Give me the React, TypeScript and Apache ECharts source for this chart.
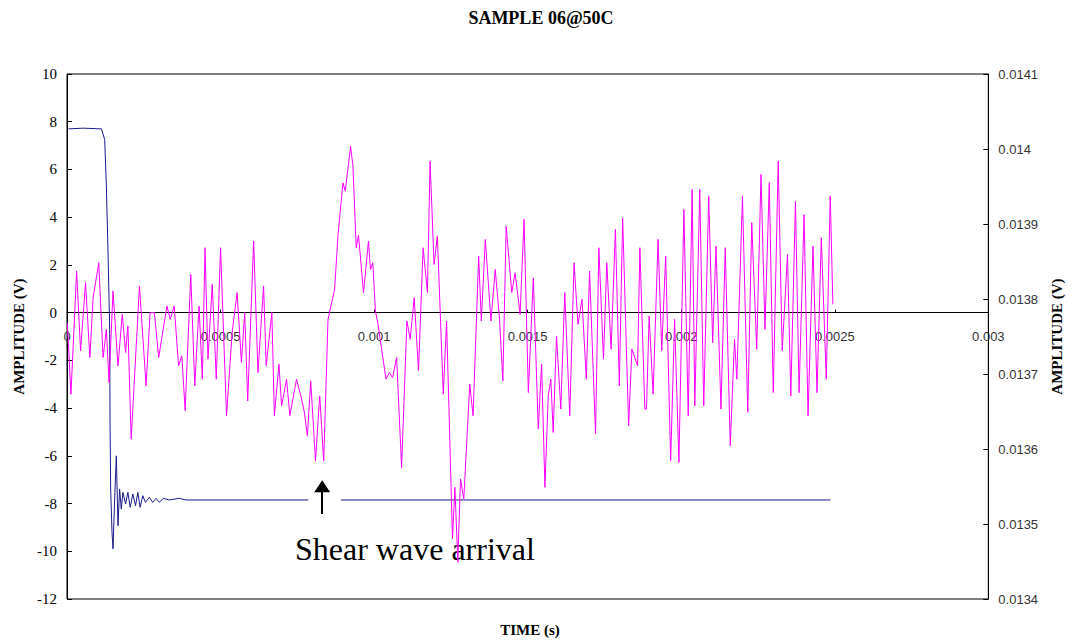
import React, { useEffect, useRef } from "react";
import * as echarts from "echarts";

// Received signal (magenta), time in microseconds and amplitude in volts
const magentaTimeUs = [
  1.1, 12.9, 31.3, 44.2, 60.3, 74.4, 85.1, 103.4, 117.5, 128.2, 136.9, 149.8, 166, 180, 190.7, 198.3,
  209, 236, 257.5, 270.5, 284.5, 298.5, 325.4, 336.2, 349.1, 363.2, 373.9, 384.7, 403, 416, 430, 440.7,
  449.4, 459, 473, 486, 500, 519.4, 537.7, 553.9, 567.9, 578.7, 588.4, 607.8, 621.8, 640.1, 648.6, 667,
  675.2, 690.1, 698.7, 714.9, 725.7, 747.3, 761.3, 772.1, 782.8, 793.6, 809, 822.9, 835.9, 849.9, 871.4,
  882.2, 898.4, 906, 923.4, 931, 941.8, 949.3, 965.5, 981.7, 988.1, 995.7, 1004.3, 1011.8, 1038.8, 1049.6,
  1060.4, 1073.3, 1089.5, 1106.8, 1117.5, 1130.5, 1144.5, 1159.6, 1173.6, 1182.2, 1195.2, 1206, 1225.2,
  1236, 1255.2, 1263, 1272.6, 1281.2, 1292, 1311.4, 1322.2, 1340.5, 1349.1, 1362.1, 1380.4, 1394.4, 1408.4,
  1419.2, 1430, 1448.3, 1459.1, 1475.3, 1488.2, 1502.2, 1518.4, 1534.6, 1545.4, 1556.2, 1567, 1575.5,
  1583.1, 1593.9, 1607.9, 1620.8, 1637, 1651, 1663.9, 1676.9, 1690.9, 1701.6, 1721, 1731.8, 1746.9,
  1757.7, 1771.7, 1785.7, 1798.5, 1809.3, 1828.7, 1839.5, 1857.8, 1865.4, 1881.5, 1886.9, 1895.5, 1908.5,
  1924.6, 1936.5, 1949.4, 1965.6, 1978.5, 1992.5, 2008.7, 2022.7, 2035.6, 2044.2, 2060.4, 2073.3, 2089.5,
  2102.4, 2113.2, 2129.4, 2143.4, 2159.6, 2173.6, 2181.1, 2199.4, 2216.7, 2229.6, 2245.8, 2259.8, 2272.7,
  2286.7, 2299.7, 2315.8, 2328.8, 2346, 2356.8, 2371.9, 2383.8, 2400, 2412.9, 2429.1, 2442.1, 2456.1,
  2472.3, 2485.2, 2493.8,
];
const magentaVolts = [
  -0.42, -3.42, 1.74, -1.6, 1.26, -1.88, 0.63, 2.09, -1.88, -0.7, -2.93, 0.91, -2.23, -0.07, -1.67, -0.56,
  -5.3, 1.12, -3.07, 0, 0, -1.88, 0.28, -0.28, 0.28, -2.23, -1.81, -4.11, 1.6, -3.07, 0.28, -2.79,
  2.72, -1.95, 1.19, -2.79, 2.72, -4.32, -0.84, 0.84, -2.09, 0, -3.7, 3.0, -2.51, 1.12, -2.23, 0,
  -4.32, -2.16, -3.91, -2.79, -4.32, -2.79, -3.49, -4.11, -5.16, -2.86, -6.21, -3.49, -6.21, -0.28, 0.98,
  3.21, 5.44, 5.09, 6.97, 6.14, 2.72, 3.24, 0.84, 3.0, 1.81, 2.09, 0.07, -0.42, -2.79, -2.51,
  -2.72, -1.88, -6.49, -0.35, -1.12, 0.63, -2.44, 2.72, 0.84, 6.35, 2.02, 3.21, -3.42,
  -0.35, -9.48, -7.32, -10.46, -6.97, -7.81, -3.0, -4.32, 2.37, -0.35, 3.07, -0.35, 1.81, -0.28,
  -2.86, 3.63, 0.84, 1.67, -0.07, 3.91, -3.35, 1.46, -4.88, -2.16, -7.32, -3.49, -2.79,
  -5.02, -0.98, -4.04, 0.84, -4.32, 2.09, -0.49, 0.56, -2.79, 1.74, -5.09, 2.72, -1.95,
  2.09, -1.53, 3.49, -3.07, 3.97, -4.74, -1.53, -2.23, 2.72, -4.04, -4.04, -0.14, -3.42,
  3.07, -1.6, 2.37, -6.21, -0.28, -6.28, 4.32, -4.32, 5.16, -3.91, 5.16, -3.91, 4.88,
  -1.26, 2.79, -4.04, 2.72, -5.58, -1.12, -2.79, 4.88, -4.18, 3.77, -1.53, 5.79, -0.7,
  5.44, -3.35, 6.35, -1.6, 2.44, -3.49, 4.67, -3.35, 4.11, -4.32, 2.79, -3.35, 3.14,
  -2.79, 4.88, 0.35,
];

// Source pulse (navy), time in microseconds and amplitude in volts; null = hidden behind the arrow
const blueTimeUs = [
  4.3, 52.8, 112.1, 122.8, 128.2, 133.6, 139, 140.1, 142.2, 146.6, 149.8, 155.2, 160.6, 166, 171.3, 176.7,
  182.1, 190.7, 198.3, 205.8, 214.4, 223.1, 230.6, 238.1, 246.8, 255.4, 268.3, 279.1, 289.9, 300.7, 313.6,
  333, 365.3, 386.9, 785.6, 840, 892.3, 2486,
];
const blueVolts: (number | null)[] = [
  7.7, 7.73, 7.7, 7.25, 5.3, 2.51, -0.7, -4.46, -7.39, -9.21, -9.9, -7.81, -6.0, -8.93, -7.39, -8.23,
  -7.53, -8.02, -7.53, -8.16, -7.6, -8.09, -7.53, -8.16, -7.67, -7.95, -7.74, -7.95, -7.78, -7.95, -7.78,
  -7.85, -7.78, -7.85, -7.85, null, -7.85, -7.85,
];

// Axes
const timeMin = 0;
const timeMax = 0.003;
const timeStep = 0.0005;
const leftMin = -12;
const leftMax = 10;
const leftStep = 2;
const rightMin = 0.0134;
const rightMax = 0.0141;
const rightStep = 0.0001;

// Annotation (arrow in data coordinates)
const arrowTimeS = 0.000831;
const arrowFromV = -8.44;
const arrowToV = -7.27;

const SERIF = '"Liberation Serif", "Times New Roman", serif';
const SANS = '"Liberation Sans", Arial, sans-serif';

const GRID = { left: 67, right: 77, top: 74, bottom: 42 };
const CHART_H = 641;

export default function App() {
  const ref = useRef<HTMLDivElement>(null);

  useEffect(() => {
    document.body.style.margin = "0";
    if (!ref.current) return;
    const chart = echarts.init(ref.current, undefined, { renderer: "svg" });

    const magenta = magentaTimeUs.map((t, i) => [t / 1e6, magentaVolts[i]]);
    const blue = blueTimeUs.map((t, i) => [t / 1e6, blueVolts[i] === null ? "-" : blueVolts[i]]);

    // Shift the time axis (line, ticks and labels) up to the zero level of the left axis
    const gridH = CHART_H - GRID.top - GRID.bottom;
    const zeroOffset = (gridH * (0 - leftMin)) / (leftMax - leftMin);

    chart.setOption({
      animation: false,
      backgroundColor: "#ffffff",
      grid: {
        ...GRID,
        show: true,
        borderColor: "#000000",
        borderWidth: 1,
        backgroundColor: "transparent",
      },
      xAxis: {
        type: "value",
        position: "bottom",
        offset: -zeroOffset,
        min: timeMin,
        max: timeMax,
        interval: timeStep,
        axisLine: { show: true, onZero: false, lineStyle: { color: "#000000", width: 1 } },
        axisTick: { show: true, inside: true, length: 3, lineStyle: { color: "#000000" } },
        axisLabel: {
          show: true,
          margin: 17,
          fontFamily: SANS,
          fontSize: 13,
          color: "#333333",
          showMinLabel: true,
          showMaxLabel: true,
          formatter: (v: number) => String(parseFloat(v.toFixed(4))),
        },
        splitLine: { show: false },
      },
      yAxis: [
        {
          type: "value",
          min: leftMin,
          max: leftMax,
          interval: leftStep,
          name: "AMPLITUDE (V)",
          nameLocation: "middle",
          nameGap: 41,
          nameTextStyle: { fontFamily: SERIF, fontSize: 15, fontWeight: "bold", color: "#000000" },
          axisLine: { show: true, lineStyle: { color: "#000000" } },
          axisTick: { show: true, inside: true, length: 5, lineStyle: { color: "#000000" } },
          axisLabel: { margin: 10, fontFamily: SERIF, fontSize: 15, color: "#000000" },
          splitLine: { show: false },
        },
        {
          type: "value",
          position: "right",
          min: rightMin,
          max: rightMax,
          interval: rightStep,
          name: "AMPLITUDE (V)",
          nameLocation: "middle",
          nameGap: 57,
          nameRotate: 90,
          nameTextStyle: { fontFamily: SERIF, fontSize: 15, fontWeight: "bold", color: "#000000" },
          axisLine: { show: true, lineStyle: { color: "#000000" } },
          axisTick: { show: true, inside: true, length: 5, lineStyle: { color: "#000000" } },
          axisLabel: {
            margin: 10,
            fontFamily: SANS,
            fontSize: 13,
            color: "#333333",
            formatter: (v: number) => String(parseFloat(v.toFixed(4))),
          },
          splitLine: { show: false },
        },
      ],
      graphic: [
        {
          type: "text",
          x: 541,
          y: 18,
          style: {
            text: "SAMPLE 06@50C",
            fontFamily: SERIF,
            fontSize: 18,
            fontWeight: "bold",
            fill: "#000000",
            align: "center",
            verticalAlign: "middle",
            textAlign: "center",
            textVerticalAlign: "middle",
          },
        },
        {
          type: "text",
          x: 530,
          y: 630,
          style: {
            text: "TIME (s)",
            fontFamily: SERIF,
            fontSize: 15,
            fontWeight: "bold",
            fill: "#000000",
            align: "center",
            verticalAlign: "middle",
            textAlign: "center",
            textVerticalAlign: "middle",
          },
        },
        {
          type: "text",
          x: 295,
          y: 549,
          style: {
            text: "Shear wave arrival",
            fontFamily: SERIF,
            fontSize: 32,
            fill: "#000000",
            align: "left",
            verticalAlign: "middle",
            textAlign: "left",
            textVerticalAlign: "middle",
          },
        },
      ],
      series: [
        {
          name: "Source",
          type: "line",
          yAxisIndex: 0,
          data: blue,
          showSymbol: false,
          symbol: "none",
          connectNulls: false,
          lineStyle: { color: "#1a1a8c", width: 1 },
          z: 2,
          markLine: {
            silent: true,
            animation: false,
            symbol: ["none", "triangle"],
            symbolSize: [16, 12],
            label: { show: false },
            lineStyle: { color: "#000000", width: 2, type: "solid" },
            data: [
              [
                { coord: [arrowTimeS, arrowFromV] },
                { coord: [arrowTimeS, arrowToV] },
              ],
            ],
          },
        },
        {
          name: "Received",
          type: "line",
          yAxisIndex: 0,
          data: magenta,
          showSymbol: false,
          symbol: "none",
          lineStyle: { color: "#ff00ff", width: 1 },
          z: 3,
        },
      ],
    });

    return () => chart.dispose();
  }, []);

  return (
    <div
      ref={ref}
      style={{ position: "fixed", left: 0, top: 0, width: 1072, height: CHART_H }}
    />
  );
}
